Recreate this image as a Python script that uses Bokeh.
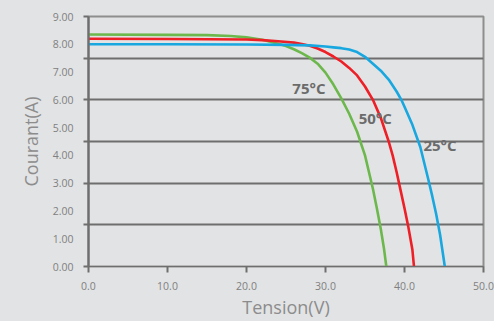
from bokeh.plotting import figure
from bokeh.models import FixedTicker, LinearAxis, NumeralTickFormatter, Range1d, ColumnDataSource
from bokeh.embed import file_html
from bokeh.resources import INLINE
from bokeh.core.properties import value

# ---- data ----
v_25 = [0, 10, 20, 25, 28, 30, 31, 32, 33, 34, 35, 36, 37, 38, 39, 39.6, 40, 41, 42, 43, 43.5, 44, 44.5, 45, 45.1]
i_25 = [8.0, 8.0, 7.99, 7.98, 7.96, 7.92, 7.89, 7.86, 7.81, 7.72, 7.55, 7.3, 7.05, 6.73, 6.3, 6.0, 5.75, 5.1, 4.3, 3.15, 2.55, 1.9, 1.15, 0.2, 0]

v_50 = [0, 10, 20, 22, 24, 26, 27, 28, 29, 30, 31, 32, 33, 34, 35, 36, 37, 38, 38.5, 39, 39.5, 40, 40.5, 41, 41.2]
i_50 = [8.2, 8.19, 8.17, 8.15, 8.11, 8.06, 8.01, 7.95, 7.85, 7.72, 7.56, 7.38, 7.15, 6.88, 6.48, 6.0, 5.35, 4.5, 4.0, 3.4, 2.75, 2.1, 1.4, 0.6, 0]

v_75 = [0, 10, 15, 18, 20, 22, 24, 25, 26, 27, 28, 29, 30, 31, 32, 33, 34, 35, 36, 36.5, 37, 37.4, 37.7]
i_75 = [8.35, 8.34, 8.33, 8.3, 8.25, 8.16, 8.02, 7.94, 7.82, 7.68, 7.52, 7.3, 6.98, 6.55, 6.05, 5.5, 4.85, 4.0, 2.8, 2.1, 1.35, 0.65, 0]

series_names = ["25°C", "50°C", "75°C"]
label_x = [42.4, 34.2, 25.8]
label_y = [4.39, 5.36, 6.41]

x_ticks = [0, 10, 20, 30, 40, 50]
y_label_ticks = [0, 1, 2, 3, 4, 5, 6, 7, 8, 9]
y_mark_ticks = [0, 1.5, 3, 4.5, 6, 7.5, 9]
grid_ticks = [1.5, 3, 4.5, 6, 7.5]

# ---- styles ----
bg = "#e2e3e5"
colors = ["#19a7e0", "#ee1f26", "#6db84c"]
tick_color = "#808080"
title_color = "#8c8c8c"
dark = "#6e6e6e"

p = figure(width=494, height=321, x_range=Range1d(0, 50), y_range=Range1d(0, 9),
           output_backend="svg", toolbar_location=None,
           background_fill_color=bg, border_fill_color=bg,
           min_border_left=88, min_border_right=11, min_border_top=16, min_border_bottom=55)

p.outline_line_color = "#8e8e8e"
p.outline_line_width = 2

# grid
p.xgrid.grid_line_color = None
p.ygrid.ticker = FixedTicker(ticks=grid_ticks)
p.ygrid.grid_line_color = dark
p.ygrid.grid_line_width = 2.2

# x axis
xa = p.xaxis[0]
xa.ticker = FixedTicker(ticks=x_ticks)
xa.formatter = NumeralTickFormatter(format="0.0")
xa.axis_line_color = dark
xa.axis_line_width = 1.2
xa.major_tick_in = 0
xa.major_tick_out = 6
xa.major_tick_line_color = dark
xa.major_tick_line_width = 2
xa.minor_tick_line_color = None
xa.major_label_text_font = "Open Sans"
xa.major_label_text_font_size = "10.5px"
xa.major_label_text_color = tick_color
xa.major_label_standoff = 9
xa.axis_label = "Tension(V)"
xa.axis_label_text_font = "Open Sans"
xa.axis_label_text_font_style = "normal"
xa.axis_label_text_font_size = "18px"
xa.axis_label_text_color = title_color
xa.axis_label_standoff = 2

# y axis (tick marks only)
ya = p.yaxis[0]
ya.ticker = FixedTicker(ticks=y_mark_ticks)
ya.axis_line_color = dark
ya.axis_line_width = 2.2
ya.major_tick_in = 0
ya.major_tick_out = 5
ya.major_tick_line_color = dark
ya.major_tick_line_width = 2
ya.minor_tick_line_color = None
ya.major_label_overrides = {t: "" for t in y_mark_ticks}
ya.major_label_standoff = 0

# y axis (labels)
yl = LinearAxis(ticker=FixedTicker(ticks=y_label_ticks),
                formatter=NumeralTickFormatter(format="0.00"))
yl.axis_line_color = None
yl.major_tick_line_color = None
yl.minor_tick_line_color = None
yl.major_tick_in = 0
yl.major_tick_out = 0
yl.major_label_text_font = "Open Sans"
yl.major_label_text_font_size = "10.5px"
yl.major_label_text_color = tick_color
yl.major_label_standoff = 10
yl.axis_label = "Courant(A)"
yl.axis_label_text_font = "Open Sans"
yl.axis_label_text_font_style = "normal"
yl.axis_label_text_font_size = "18px"
yl.axis_label_text_color = title_color
yl.axis_label_standoff = 7
p.add_layout(yl, "left")

# curves
for vs, is_, c in [(v_75, i_75, colors[2]), (v_50, i_50, colors[1]), (v_25, i_25, colors[0])]:
    p.line(vs, is_, line_color=c, line_width=2.6)

# labels
src = ColumnDataSource(dict(x=label_x, y=label_y, t=series_names))
p.text(x="x", y="y", text="t", source=src, text_font=value("Open Sans"),
       text_font_style="bold", text_font_size="15px", text_color="#6b6b6b",
       text_align="left", text_baseline="middle")

html = file_html(p, INLINE)
html = html.replace("<head>", "<head><style>html,body{background:#e2e3e5;}</style>", 1)
open("out.html", "w").write(html)
